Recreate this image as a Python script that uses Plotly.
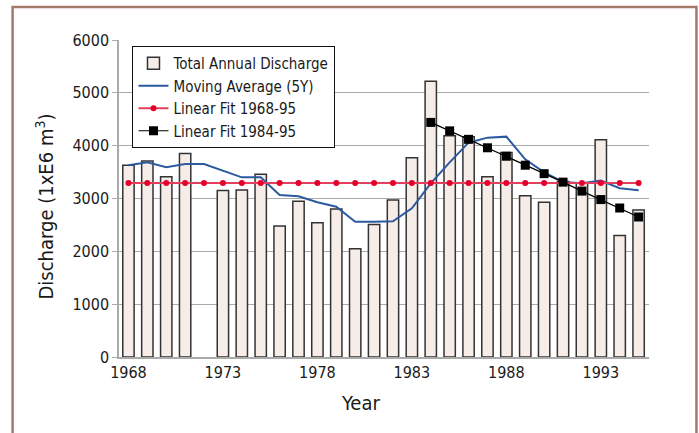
import plotly.graph_objects as go

years = list(range(1968, 1996))
discharge = [3630, 3710, 3410, 3850, None, 3150, 3160, 3460, 2480, 2950,
             2540, 2800, 2050, 2510, 2970, 3770, 5220, 4190, 4170, 3410,
             3870, 3050, 2930, 3320, 3300, 4110, 2300, 2780]
moving_avg = [3630, 3685, 3590, 3653, 3653, 3527, 3400, 3400, 3067, 3042,
              2928, 2845, 2561, 2561, 2568, 2814, 3288, 3685, 4057, 4152,
              4171, 3742, 3496, 3313, 3288, 3338, 3193, 3155]
fit_all = [3295] * 28
fit_years = list(range(1984, 1996))
fit_recent = [4440, 4280, 4120, 3960, 3800, 3630, 3470, 3310, 3140, 2980, 2820, 2650]
tick_years = [1968, 1973, 1978, 1983, 1988, 1993]

FONT = "DejaVu Sans Condensed, Liberation Sans Narrow, sans-serif"

fig = go.Figure()
fig.add_trace(go.Bar(
    x=years, y=discharge, name="Total Annual Discharge", width=0.6,
    marker=dict(color="#f7ede8", line=dict(color="#333333", width=1.5)),
))
fig.add_trace(go.Scatter(
    x=years, y=moving_avg, name="Moving Average (5Y)", mode="lines",
    line=dict(color="#2c5aa0", width=2),
))
fig.add_trace(go.Scatter(
    x=years, y=fit_all, name="Linear Fit 1968-95", mode="lines+markers",
    line=dict(color="#e2405e", width=2), marker=dict(color="#e5002b", size=6),
))
fig.add_trace(go.Scatter(
    x=fit_years, y=fit_recent, name="Linear Fit 1984-95", mode="lines+markers",
    line=dict(color="#000000", width=1.2), marker=dict(color="#000000", size=9, symbol="square"),
))

W, H = 699, 433
L = 118.5
T = 40
PLOT_RIGHT = 649
PLOT_BOTTOM = 357
R = W - PLOT_RIGHT
B = H - PLOT_BOTTOM
pw = W - L - R
ph = H - T - B

def px_to_paper_x(px):
    return (px - L) / pw

def px_to_paper_y(py):
    return (PLOT_BOTTOM - py) / ph

fig.add_shape(type="rect", xref="paper", yref="paper",
              x0=px_to_paper_x(12), x1=px_to_paper_x(696.5),
              y0=px_to_paper_y(450), y1=px_to_paper_y(7),
              line=dict(color="#a27a6a", width=2.5), fillcolor="rgba(0,0,0,0)", layer="below")

fig.add_annotation(text="Year", xref="paper", yref="paper",
                   x=px_to_paper_x(360), y=px_to_paper_y(403), xanchor="center", yanchor="middle",
                   showarrow=False, font=dict(size=20))
fig.add_annotation(text="Discharge (1xE6 m<sup>3</sup>)", xref="paper", yref="paper",
                   x=px_to_paper_x(44), y=px_to_paper_y(207), xanchor="center", yanchor="middle",
                   textangle=-90, showarrow=False, font=dict(size=20))

fig.update_layout(
    width=W, height=H, autosize=False,
    margin=dict(l=L, r=R, t=T, b=B, pad=0),
    paper_bgcolor="white", plot_bgcolor="white",
    font=dict(family=FONT, size=16, color="#1a1a1a"),
    showlegend=True,
    legend=dict(x=px_to_paper_x(132), y=px_to_paper_y(46), xanchor="left", yanchor="top",
                bgcolor="white", bordercolor="#111111", borderwidth=1,
                font=dict(family=FONT, size=15, color="#1a1a1a"),
                tracegroupgap=0),
    bargap=0.4,
)
fig.update_xaxes(
    range=[1967.5, 1995.55], tickmode="array", tickvals=tick_years,
    ticktext=[str(t) for t in tick_years], showgrid=False, automargin=False,
    showline=True, linecolor="#aaaaaa", linewidth=1.5, ticks="",
    tickfont=dict(size=16),
)
fig.update_yaxes(
    range=[0, 6000], tickvals=[0, 1000, 2000, 3000, 4000, 5000, 6000],
    showgrid=True, gridcolor="#aaaaaa", gridwidth=1, automargin=False,
    showline=True, linecolor="#aaaaaa", linewidth=1.5, ticks="outside", ticklen=5, tickcolor="#aaaaaa",
    tickfont=dict(size=16), zeroline=False,
)

fig.write_html("out.html", config={"displayModeBar": False},
               post_script="document.body.style.margin='0';document.body.style.overflow='hidden';")
